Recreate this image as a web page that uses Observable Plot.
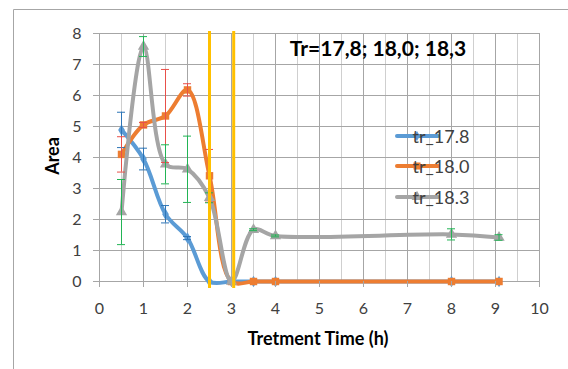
<!DOCTYPE html>
<html>
<head>
<meta charset="utf-8">
<script src="https://cdn.jsdelivr.net/npm/d3@7"></script>
<script src="https://cdn.jsdelivr.net/npm/@observablehq/plot@0.6"></script>
<style>
  body { margin: 0; background: #fff; }
  #chart { width: 568px; height: 369px; overflow: hidden; }
  svg { font-family: Lato, "Open Sans", sans-serif; }
</style>
</head>
<body>
<div id="chart"></div>
<script>
// ---- data ----
const hours = [0.5, 1, 1.5, 2, 2.5, 3, 3.5, 4, 8, 9.08];
const seriesNames = ["tr_17.8", "tr_18.0", "tr_18.3"];
const tr178 = [4.89, 3.95, 2.17, 1.40, 0, 0, 0, 0, 0, 0];
const tr178Err = [0.57, 0.35, 0.28, 0.05, 0, 0, 0, 0, 0, 0];
const tr180 = [4.10, 5.05, 5.34, 6.18, 3.41, 0, 0, 0, 0, 0];
const tr180Err = [0.57, 0.08, 1.50, 0.20, 0.85, 0, 0, 0, 0, 0];
const tr183 = [2.24, 7.58, 3.78, 3.62, 2.70, 0, 1.67, 1.47, 1.52, 1.42];
const tr183Err = [1.05, 0.32, 0.63, 1.07, 0.16, 0, 0.03, 0.03, 0.18, 0.09];
const markerHours = [2.5, 3.05];
const xTicks = [0, 1, 2, 3, 4, 5, 6, 7, 8, 9, 10];
const yTicks = [0, 1, 2, 3, 4, 5, 6, 7, 8];
const xGrid = d3.range(0.5, 10.01, 0.5);
const titleText = "Tr=17,8; 18,0; 18,3";
const xLabel = "Tretment Time (h)";
const yLabel = "Area";

const colors = ["#5b9bd5", "#ed7d31", "#a5a5a5"];
const errColors = ["#2e75b6", "#e8504a", "#22b455"];
const symbols = ["diamond", "square", "triangle"];
const values = [tr178, tr180, tr183];
const errs = [tr178Err, tr180Err, tr183Err];

const rows = [];
seriesNames.forEach((s, i) => hours.forEach((h, j) => rows.push({
  series: s, idx: i, x: h, y: values[i][j], e: errs[i][j]
})));
const bySeries = i => rows.filter(d => d.idx === i);

const marks = [
  Plot.ruleX(xGrid, {stroke: d => Number.isInteger(d) ? "#a6a6a6" : "#cfcfcf", strokeWidth: 1}),
  Plot.ruleY(yTicks.filter(d => d > 0), {stroke: "#a6a6a6", strokeWidth: 1}),
  Plot.ruleY([0], {stroke: "#a6a6a6", strokeWidth: 1}),
  Plot.ruleX([0], {stroke: "#a6a6a6", strokeWidth: 1}),
];
[0, 1, 2].forEach(i => {
  marks.push(Plot.line(bySeries(i), {x: "x", y: "y", stroke: colors[i], strokeWidth: 4, curve: "catmull-rom", tension: 0.5, strokeLinejoin: "round", strokeLinecap: "round"}));
  marks.push(Plot.dot(bySeries(i), {x: "x", y: "y", symbol: symbols[i], fill: colors[i], r: i === 0 ? 3.5 : 4.2}));
});
[0, 1, 2].forEach(i => {
  const eb = bySeries(i).filter(d => d.e > 0);
  marks.push(Plot.ruleX(eb, {x: "x", y1: d => d.y - d.e, y2: d => d.y + d.e, stroke: errColors[i], strokeWidth: 1}));
  marks.push(Plot.ruleY(eb, {y: d => d.y - d.e, x1: "x", x2: "x", insetLeft: -4, insetRight: -4, stroke: errColors[i], strokeWidth: 1}));
  marks.push(Plot.ruleY(eb, {y: d => d.y + d.e, x1: "x", x2: "x", insetLeft: -4, insetRight: -4, stroke: errColors[i], strokeWidth: 1}));
});
marks.push(Plot.ruleX(markerHours, {stroke: "#ffc000", strokeWidth: 3, insetTop: -2, insetBottom: -7}));
marks.push(Plot.axisX(xTicks, {tickSize: 6, tickPadding: 15, stroke: "#a6a6a6", fill: "#404040", fontSize: 16, label: null}));
marks.push(Plot.axisY(yTicks, {tickSize: 6, tickPadding: 12, stroke: "#a6a6a6", fill: "#404040", fontSize: 16, label: null}));

const plot = Plot.plot({
  width: 568,
  height: 369,
  marginLeft: 99,
  marginRight: 29,
  marginTop: 33,
  marginBottom: 88,
  x: {domain: [0, 10]},
  y: {domain: [0, 8]},
  style: {background: "#fff", overflow: "visible"},
  marks
});
document.getElementById("chart").appendChild(plot);

// frame, titles, legend (layout)
const svg = d3.select(plot);
svg.append("line").attr("x1", 13.5).attr("x2", 13.5).attr("y1", 9.5).attr("y2", 369).attr("stroke", "#a6a6a6");
svg.append("line").attr("x1", 13.5).attr("x2", 568).attr("y1", 9.5).attr("y2", 9.5).attr("stroke", "#a6a6a6");
svg.append("text").attr("x", 378).attr("y", 56).attr("text-anchor", "middle")
  .attr("font-size", 21).attr("font-weight", "bold").attr("fill", "#000").text(titleText);
svg.append("text").attr("x", 318).attr("y", 345).attr("text-anchor", "middle")
  .attr("font-size", 18).attr("font-weight", "bold").attr("fill", "#000").text(xLabel);
svg.append("text").attr("transform", "translate(59,156) rotate(-90)").attr("text-anchor", "middle")
  .attr("font-size", 18).attr("font-weight", "bold").attr("fill", "#000").text(yLabel);

const legY = [136, 166, 197];
seriesNames.forEach((s, i) => {
  const g = svg.append("g");
  g.append("line").attr("x1", 397).attr("x2", 438).attr("y1", legY[i]).attr("y2", legY[i])
    .attr("stroke", colors[i]).attr("stroke-width", 4).attr("stroke-linecap", "round");
  const sym = d3.symbol().type([d3.symbolDiamond, d3.symbolSquare, d3.symbolTriangle][i]).size(i === 0 ? 30 : 50);
  g.append("path").attr("d", sym()).attr("transform", `translate(417,${legY[i]})`).attr("fill", colors[i]);
  g.append("text").attr("x", 441).attr("y", legY[i]).attr("dy", "0.38em")
    .attr("font-size", 18).attr("fill", "#404040").text(s);
});
</script>
</body>
</html>
